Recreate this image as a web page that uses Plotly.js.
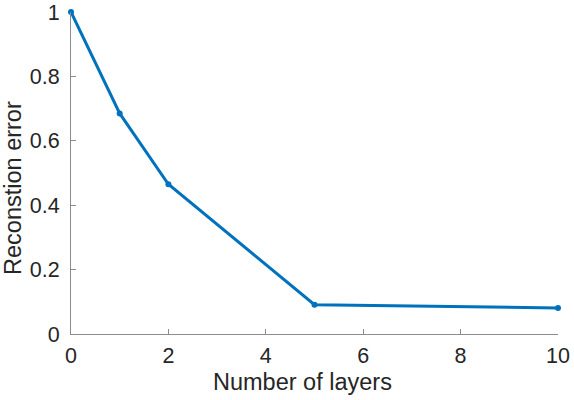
<!DOCTYPE html>
<html>
<head>
<meta charset="utf-8">
<script src="https://cdn.plot.ly/plotly-3.0.1.min.js"></script>
<style>
  html, body { margin: 0; padding: 0; background: #fff; }
  #plot { width: 574px; height: 400px; }
</style>
</head>
<body>
<div id="plot"></div>
<script>
// layers vs error
var layers = [0, 1, 2, 5, 10];
var recon_error = [1.0, 0.685, 0.465, 0.091, 0.081];

var xTicks = [0, 2, 4, 6, 8, 10];
var yTicks = [0, 0.2, 0.4, 0.6, 0.8, 1];
var yTickText = ["0", "0.2", "0.4", "0.6", "0.8", "1"];

var xLabel = "Number of layers";
var yLabel = "Reconstion error";

var trace1 = {
    x: layers,
    y: recon_error,
    type: "scatter",
    mode: "lines+markers",
    line: {color: "#0072BD", width: 3},
    marker: {color: "#0072BD", size: 6},
    cliponaxis: false,
    showlegend: false
}

var axisFont = {family: "Liberation Sans, Arial, sans-serif", size: 21.5, color: "#262626"};
var titleFont = {family: axisFont.family, size: 23.5, color: "#262626"};

var layout = {
    width: 574,
    height: 400,
    margin: {l: 71, r: 16, t: 12, b: 66},
    paper_bgcolor: "#fff",
    plot_bgcolor: "#fff",
    xaxis: {
        range: [0, 10],
        tickvals: xTicks,
        ticktext: xTicks.map(String),
        ticks: "inside",
        ticklen: 5,
        tickcolor: "#8c8c8c",
        showline: true,
        linecolor: "#8c8c8c",
        linewidth: 1,
        showgrid: false,
        zeroline: false,
        tickfont: axisFont,
        ticklabelstandoff: 2
    },
    yaxis: {
        range: [0, 1],
        tickvals: yTicks,
        ticktext: yTickText,
        ticks: "inside",
        ticklen: 5,
        tickcolor: "#8c8c8c",
        showline: true,
        linecolor: "#8c8c8c",
        linewidth: 1,
        showgrid: false,
        zeroline: false,
        tickfont: axisFont,
        ticklabelstandoff: 6
    },
    // titles placed as annotations, MATLAB puts them a bit off-centre
    annotations: [{
        text: xLabel,
        xref: "paper", yref: "paper",
        x: 231 / 487, y: -48 / 322,
        xanchor: "center", yanchor: "middle",
        showarrow: false,
        font: titleFont
    }, {
        text: yLabel,
        textangle: -90,
        xref: "paper", yref: "paper",
        x: -57.5 / 487, y: 0.452,
        xanchor: "center", yanchor: "middle",
        showarrow: false,
        font: titleFont
    }]
}

Plotly.newPlot("plot", [trace1], layout, {displayModeBar: false, staticPlot: true})
</script>
</body>
</html>
